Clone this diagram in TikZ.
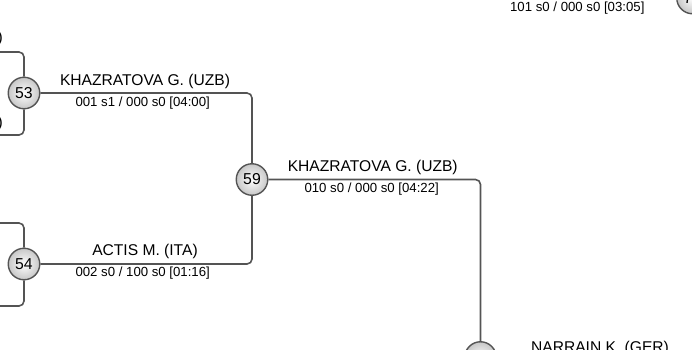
\documentclass[tikz,border=0pt]{standalone}
\usepackage{fontspec}
\setmainfont{Liberation Sans}
\begin{document}
\begin{tikzpicture}[x=1pt,y=-1pt,
  conn/.style={draw=black!67, line width=1.6pt, rounded corners=5pt},
  match/.style={circle, draw=black!67, line width=1.4pt, minimum size=31.5pt, inner sep=0pt,
    inner color=white, outer color=black!22, font=\fontsize{15.8}{16}\selectfont},
  pname/.style={font=\fontsize{15.6}{16}\selectfont, inner sep=0pt},
  pscore/.style={font=\fontsize{13.2}{14}\selectfont, inner sep=0pt}]
\useasboundingbox (0,0) rectangle (692,349);
% feeder coordinates
\coordinate (t53) at (0,52);
\coordinate (b53) at (0,135);
\coordinate (t54) at (0,223);
\coordinate (b54) at (0,306);
\coordinate (p7) at (480.5,-2);
% match circles
\node[match] (c53) at (24,93) {53};
\node[match] (c54) at (24,264) {54};
\node[match] (c59) at (252,179.5) {59};
\node[match] (cB) at (480.5,357.5) {};
\node[match] (c7) at (692.5,-2) {71};
% connectors
\draw[conn] (t53) -| (c53.north);
\draw[conn] (b53) -| (c53.south);
\draw[conn] (t54) -| (c54.north);
\draw[conn] (b54) -| (c54.south);
\draw[conn] (c53.east) -| (c59.north);
\draw[conn] (c54.east) -| (c59.south);
\draw[conn] (c59.east) -| (cB.north);
\draw[conn] (p7) -- (c7.west);
% labels
\node[pname, anchor=east] (n0a) at (3,38) {)};
\node[pname, anchor=east] (n0b) at (3,123) {)};
\node[pname] (n53) at (145,81.5) {KHAZRATOVA G. (UZB)};
\node[pscore] (s53) at (142.7,103.5) {001 s1 / 000 s0 [04:00]};
\node[pname] (n54) at (145,251.5) {ACTIS M. (ITA)};
\node[pscore] (s54) at (142.7,273.5) {002 s0 / 100 s0 [01:16]};
\node[pname] (n59) at (372.7,167.5) {KHAZRATOVA G. (UZB)};
\node[pscore] (s59) at (371.7,189.5) {010 s0 / 000 s0 [04:22]};
\node[pscore] (s7) at (577.3,8) {101 s0 / 000 s0 [03:05]};
\node[pname] (nB) at (600,348) {NARRAIN K. (GER)};
\end{tikzpicture}
\end{document}
